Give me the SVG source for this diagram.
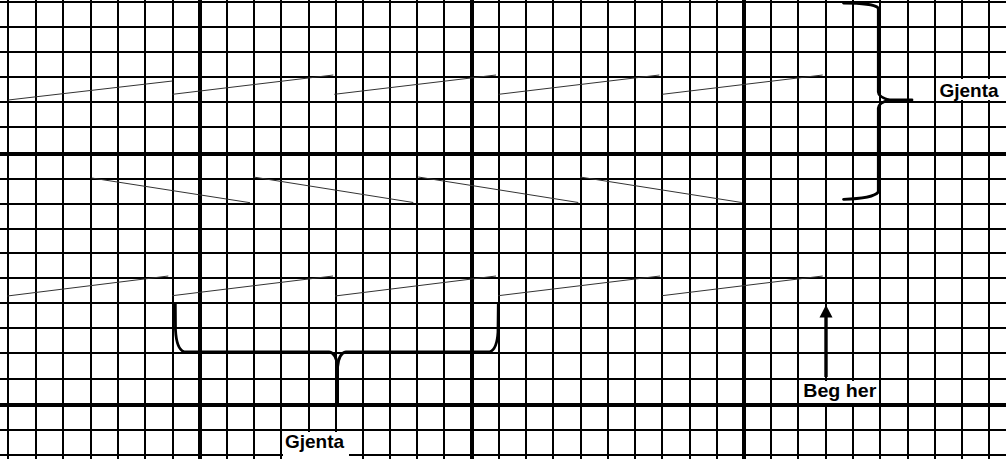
<svg xmlns="http://www.w3.org/2000/svg" width="1006" height="459" viewBox="0 0 1006 459">
<style>
.thin{stroke:#000;stroke-width:2;fill:none}
.thick{stroke:#000;stroke-width:4;fill:none}
.zig{stroke:#333;stroke-width:1;fill:none}
.brace{stroke:#000;stroke-width:2.8;fill:none;stroke-linecap:round;stroke-linejoin:round}
.lbl{font-family:"Liberation Sans",Arial,sans-serif;font-weight:bold;font-size:19px;fill:#000}
.box{fill:#fff;stroke:none}
</style>
<rect width="1006" height="459" fill="#fff"/>
<g id="grid">
<path class="thin" d="M8,0V459M36,0V459M63,0V459M91,0V459M118,0V459M145,0V459M173,0V459M227,0V459M254,0V459M281,0V459M309,0V459M336,0V459M363,0V459M390,0V459M417,0V459M444,0V459M499,0V459M526,0V459M553,0V459M581,0V459M608,0V459M635,0V459M662,0V459M690,0V459M717,0V459M771,0V459M798,0V459M826,0V459M853,0V459M880,0V459M908,0V459M935,0V459M962,0V459M989,0V459"/>
<path class="thin" d="M0,2H1006M0,27H1006M0,52H1006M0,77H1006M0,102H1006M0,127H1006M0,179H1006M0,204H1006M0,229H1006M0,253H1006M0,278H1006M0,303H1006M0,328H1006M0,353H1006M0,379H1006M0,430H1006M0,455H1006"/>
<path class="thick" d="M200,0V459M472,0V459M744,0V459M0,154H1006M0,405H1006"/>
</g>
<g id="zigzag">
<path class="zig" d="M8.3,100L172.3,81M172.6,94.3L333.3,75M334.3,94.3L496,75M498.7,94.3L659.3,75M662.3,94.3L822.7,75"/>
<path class="zig" d="M91.7,178L250,202.7M253.3,177L413.3,202.5M418.3,177L578.3,202.5M580,177L741.7,202.5"/>
<path class="zig" d="M7.3,296L168.3,276M172.3,295.7L333,276M335,296L496,276M498.3,295.7L660,276M662,295.7L822.7,276"/>
</g>
<g id="connectors">
<path class="brace" d="M843.5,3 Q873,3 878.3,8 L878.3,92 Q878.5,97 889,100 Q878.5,103 878.3,108 L878.3,192 Q873,198.5 843.5,199.3"/>
<path class="brace" d="M886,100 L912,100"/>
<path class="brace" d="M175.3,303.5 L175.5,330 Q176.5,349 184,351.8 L329,351.8 Q336.5,353 337.6,367 L337.6,404"/>
<path class="brace" d="M498.3,303.5 L498,332 Q497,349 490,351.8 L346,351.8 Q338.7,353 337.6,367"/>
<line x1="826" y1="377" x2="826" y2="316" stroke="#000" stroke-width="3.4"/>
<polygon points="826,305 819.5,317.5 832.5,317.5" fill="#000"/>
</g>
<g id="label-right">
<rect class="box" x="937" y="79" width="66" height="21"/>
<text class="lbl" x="939.5" y="96.7">Gjenta</text>
</g>
<g id="label-bottom">
<rect class="box" x="283" y="432" width="66" height="27"/>
<text class="lbl" x="285" y="447.7">Gjenta</text>
</g>
<g id="label-start">
<rect class="box" x="800.5" y="381" width="78" height="22"/>
<text class="lbl" x="803.3" y="397.3" textLength="73" lengthAdjust="spacingAndGlyphs">Beg her</text>
</g>
</svg>
